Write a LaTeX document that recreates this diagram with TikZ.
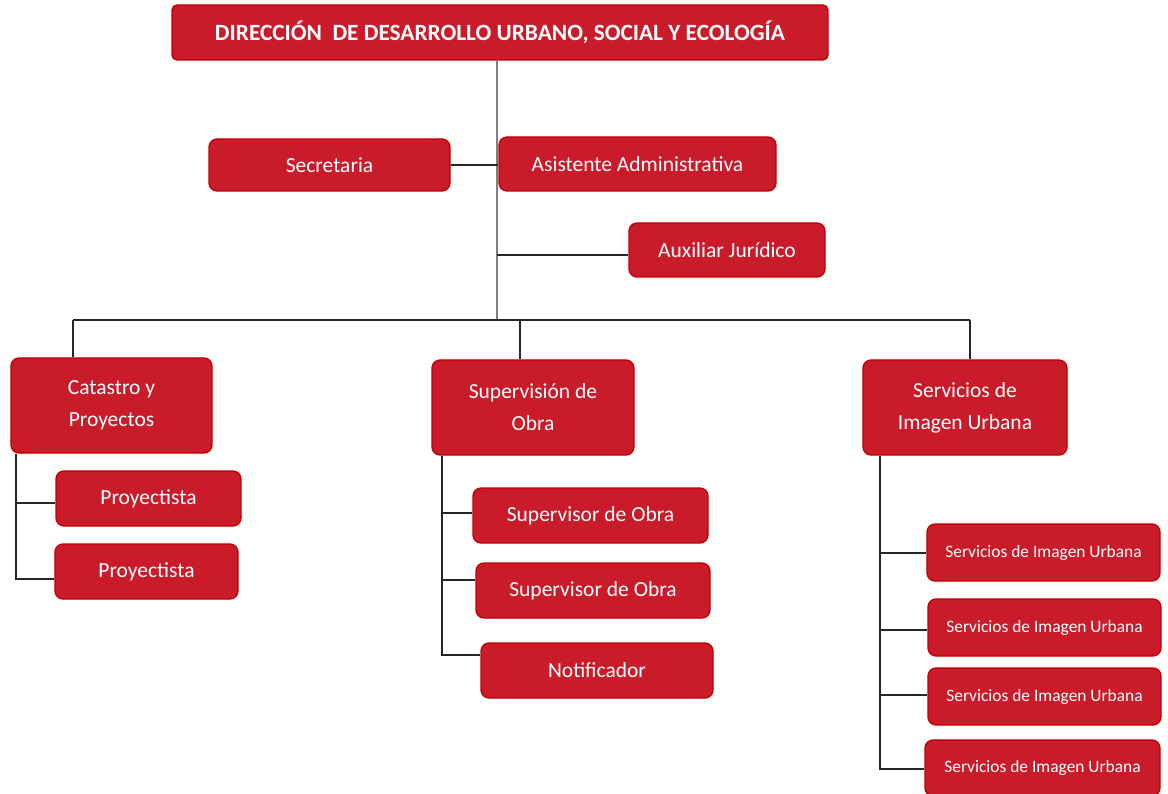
\documentclass[tikz,border=0pt]{standalone}
\usepackage{fontspec}
\setmainfont{Carlito}
\definecolor{boxred}{HTML}{CA1B2B}
\definecolor{boxedge}{HTML}{C00000}
\definecolor{trunkgray}{HTML}{7F7F7F}
\tikzset{
  box/.style={draw=boxedge, line width=1.3pt, fill=boxred, text=white, rounded corners=8pt,
    inner sep=0pt, font=\fontsize{21.5}{32}\selectfont, align=center},
  smallbox/.style={box, font=\fontsize{17.4}{20}\selectfont},
  titlebox/.style={box, rounded corners=5pt, font=\bfseries\fontsize{23.3}{28}\selectfont},
  link/.style={draw=black!85, line width=1.2pt},
  trunk/.style={draw=trunkgray, line width=1.3pt}
}
\begin{document}
\begin{tikzpicture}[x=1pt,y=-1pt]
\useasboundingbox (0,0) rectangle (1168,794);
% nodes
\node[titlebox, minimum width=656pt, minimum height=55pt] (title) at (500,32.5) {DIRECCIÓN\ \ DE DESARROLLO URBANO, SOCIAL Y ECOLOGÍA};
\node[box, minimum width=241pt, minimum height=52pt] (sec) at (329.5,165) {Secretaria};
\node[box, minimum width=277pt, minimum height=54pt] (asis) at (637.5,164) {Asistente Administrativa};
\node[box, minimum width=196pt, minimum height=54pt] (aux) at (727,250) {Auxiliar Jurídico};
\node[box, minimum width=201pt, minimum height=95pt] (cat) at (111.5,405.5) {Catastro y\\Proyectos};
\node[box, minimum width=202pt, minimum height=95pt] (sup) at (533,407.5) {Supervisión de\\Obra};
\node[box, minimum width=204pt, minimum height=95pt] (siu) at (965,407.5) {Servicios de\\Imagen Urbana};
\node[box, minimum width=185pt, minimum height=55pt] (p1) at (148.5,498.5) {Proyectista};
\node[box, minimum width=183pt, minimum height=55pt] (p2) at (146.5,571.5) {Proyectista};
\node[box, minimum width=235pt, minimum height=55pt] (so1) at (590.5,515.5) {Supervisor de Obra};
\node[box, minimum width=234pt, minimum height=55pt] (so2) at (593,590.5) {Supervisor de Obra};
\node[box, minimum width=232pt, minimum height=55pt] (not) at (597,670.5) {Notificador};
\node[smallbox, minimum width=233pt, minimum height=57pt] (s1) at (1043.5,552.5) {Servicios de Imagen Urbana};
\node[smallbox, minimum width=233pt, minimum height=57pt] (s2) at (1044.5,627.5) {Servicios de Imagen Urbana};
\node[smallbox, minimum width=233pt, minimum height=57pt] (s3) at (1044.5,696.5) {Servicios de Imagen Urbana};
\node[smallbox, minimum width=235pt, minimum height=56pt] (s4) at (1042.5,768) {Servicios de Imagen Urbana};
% coordinates
\coordinate (tb) at (497,320);
\coordinate (busL) at (73,320);
\coordinate (busM) at (520,320);
\coordinate (busR) at (970,320);
\coordinate (catx) at (16,0);
\coordinate (supx) at (442,0);
\coordinate (siux) at (880,0);
% connectors
\draw[trunk] (title.south -| tb) -- (tb);
\draw[link] (sec.east) -- (asis.west |- sec.east);
\draw[link] (aux.west |- 0,255) -- (tb |- 0,255);
\draw[link] (busL) -- (busR);
\draw[link] (busL) -- (cat.north -| busL);
\draw[link] (busM) -- (sup.north -| busM);
\draw[link] (busR) -- (siu.north -| busR);
\draw[link] (cat.south -| catx) -- (catx |- 0,579) -- (p2.west |- 0,579);
\draw[link] (catx |- 0,503) -- (p1.west |- 0,503);
\draw[link] (sup.south -| supx) -- (supx |- 0,655) -- (not.west |- 0,655);
\draw[link] (supx |- 0,513) -- (so1.west |- 0,513);
\draw[link] (supx |- 0,580) -- (so2.west |- 0,580);
\draw[link] (siu.south -| siux) -- (siux |- 0,769) -- (s4.west |- 0,769);
\draw[link] (siux |- 0,553) -- (s1.west |- 0,553);
\draw[link] (siux |- 0,630) -- (s2.west |- 0,630);
\draw[link] (siux |- 0,695) -- (s3.west |- 0,695);
\end{tikzpicture}
\end{document}
